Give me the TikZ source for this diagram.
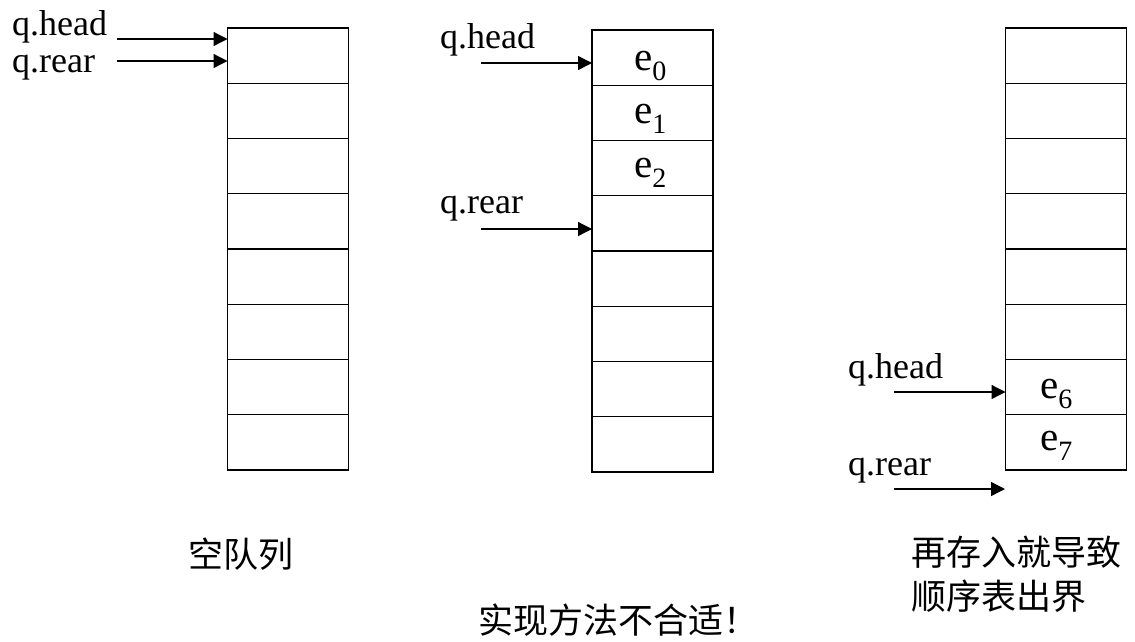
\documentclass[tikz,border=0pt]{standalone}
\usepackage{fontspec}
\setmainfont{Liberation Serif}
\newfontfamily\cjk{Noto Sans CJK SC}
\usetikzlibrary{arrows.meta,calc}

\begin{document}
\begin{tikzpicture}[x=1pt,y=-1pt,
  cell/.style={draw,line width=1.2pt,minimum width=121pt,minimum height=55.25pt,
    inner sep=0pt,outer sep=0pt},
  ptr/.style={line width=1.3pt,-{Triangle[length=14pt,width=14pt]}},
  lbl/.style={anchor=base west,inner sep=0pt,font=\fontsize{36}{40}\selectfont},
  elem/.style={anchor=base west,inner sep=0pt},
  note/.style={anchor=base west,inner sep=0pt,align=left,
    font=\cjk\fontsize{35}{44}\selectfont}]
\useasboundingbox (0,0) rectangle (1135,641);

% three arrays of eight slots each
\foreach \i in {1,...,8}{
  \node[cell] (a\i) at (288, {28+(\i-0.5)*55.25}) {};
  \node[cell] (b\i) at (652.5, {30+(\i-0.5)*55.25}) {};
  \node[cell] (c\i) at (1066, {28+(\i-0.5)*55.25}) {};
}

\newcommand{\elemtxt}[1]{{\fontsize{41}{41}\selectfont e}\raisebox{-10pt}{\fontsize{28}{28}\selectfont #1}}

% stored elements
\node[elem] (e0) at (634,70)  {\elemtxt{0}};
\node[elem] (e1) at (634,123) {\elemtxt{1}};
\node[elem] (e2) at (634,177) {\elemtxt{2}};
\node[elem] (e6) at (1040,398) {\elemtxt{6}};
\node[elem] (e7) at (1040,450) {\elemtxt{7}};

% pointer labels
\node[lbl] (h1) at (12,35)  {q.head};
\node[lbl] (r1) at (12,72)  {q.rear};
\node[lbl] (h2) at (440,48) {q.head};
\node[lbl] (r2) at (440,213) {q.rear};
\node[lbl] (h3) at (848,378) {q.head};
\node[lbl] (r3) at (848,475) {q.rear};

% pointer tails
\coordinate (th1) at (117,39);
\coordinate (tr1) at (117,61);
\coordinate (th2) at (481,63);
\coordinate (tr2) at (481,229);
\coordinate (th3) at (894,392);
\coordinate (tr3) at (894,489);
\coordinate (past) at (1005,489);

% pointers
\draw[ptr] (th1) -- (th1 -| a1.west);
\draw[ptr] (tr1) -- (tr1 -| a1.west);
\draw[ptr] (th2) -- (th2 -| b1.west);
\draw[ptr] (tr2) -- (tr2 -| b4.west);
\draw[ptr] (th3) -- (th3 -| c7.west);
\draw[ptr] (tr3) -- (past);

% captions
\node[note] (cap1) at (188,567) {空队列};
\node[note,anchor=north west] (cap3) at (911,536) {再存入就导致\\顺序表出界};
\node[note] (cap2) at (478,633) {实现方法不合适！};
\end{tikzpicture}
\end{document}
